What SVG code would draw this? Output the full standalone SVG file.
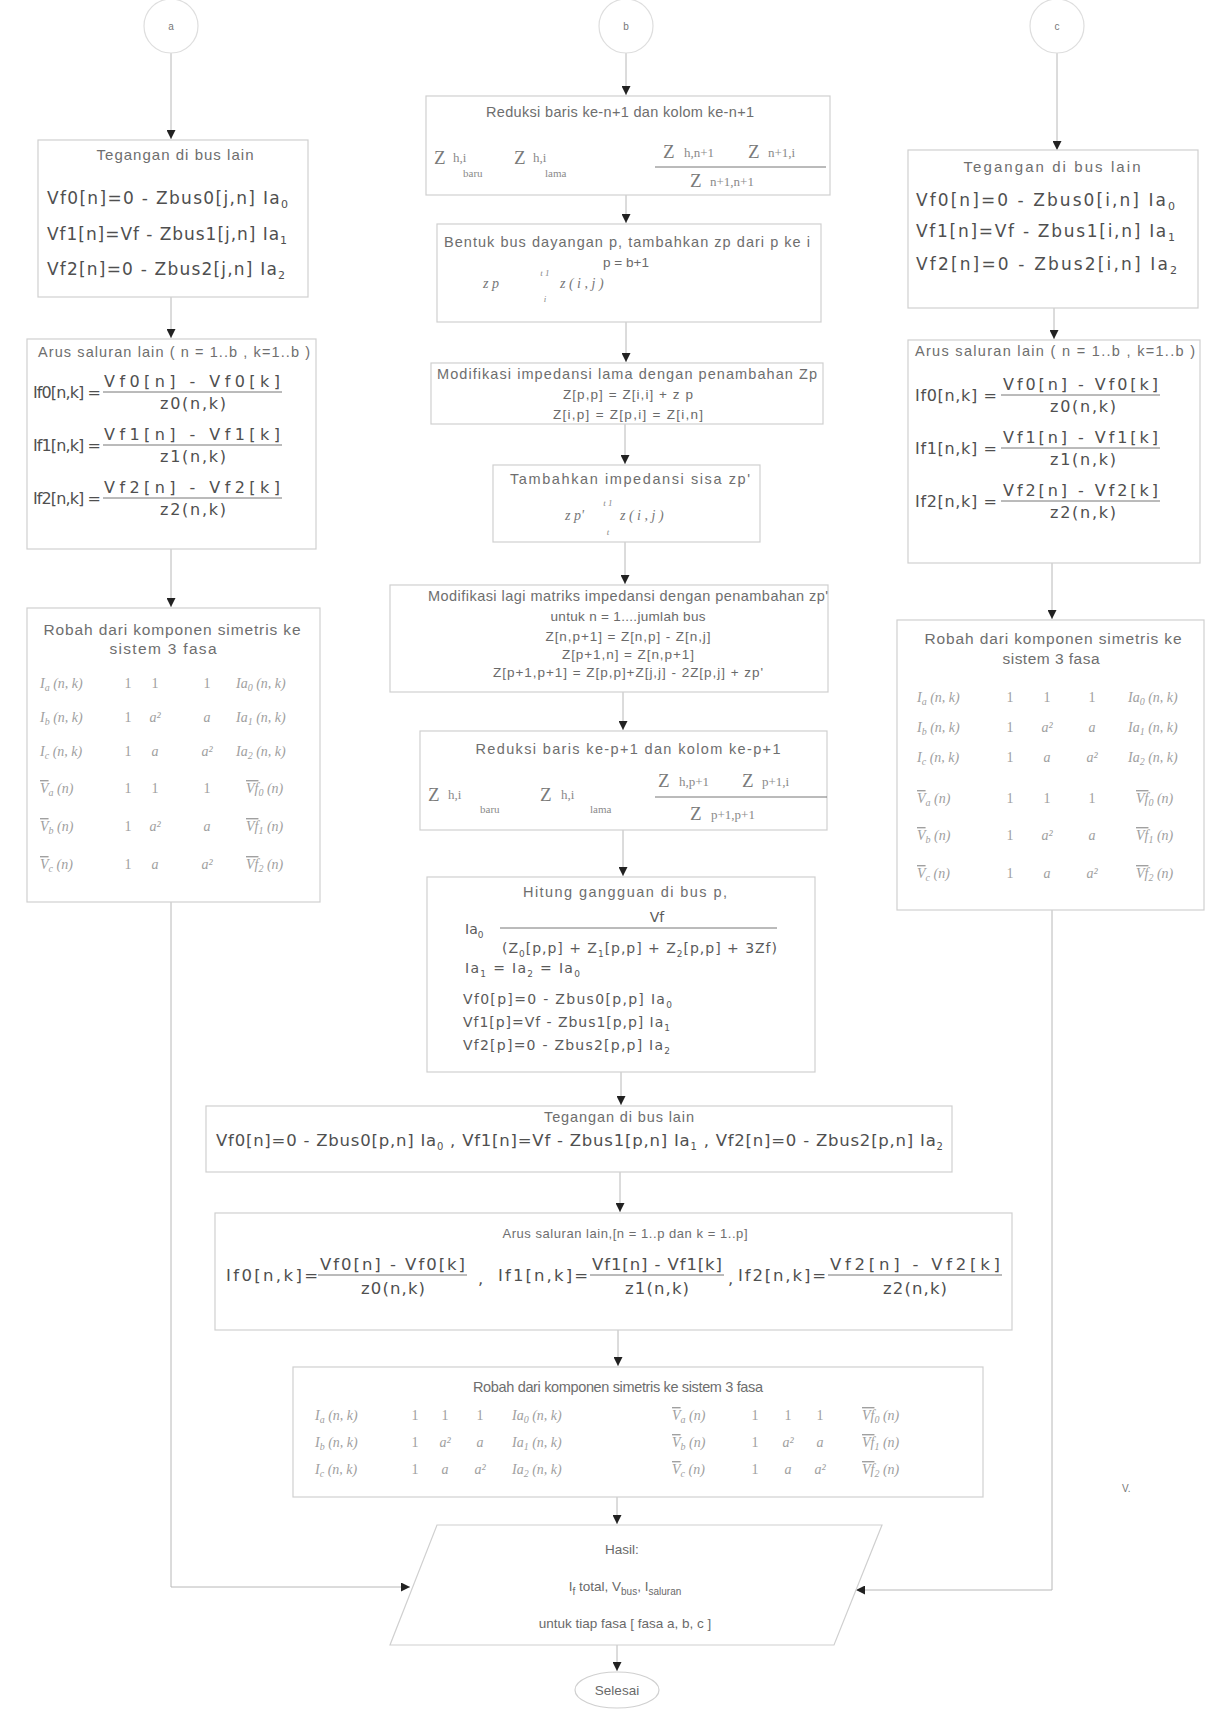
<svg xmlns="http://www.w3.org/2000/svg" width="1210" height="1712" viewBox="0 0 1210 1712">
<defs>
<style>
.box{fill:#fff;stroke:#d0d0d0;stroke-width:1.2}
.circ{fill:#fff;stroke:#dedede;stroke-width:1.2}
.t{font-family:"Liberation Sans",Arial,sans-serif;font-size:14.5px;fill:#6e6e6e}
.s{font-family:"Liberation Sans",Arial,sans-serif;font-size:13.5px;fill:#6a6a6a}
.lbl{font-family:"Liberation Sans",Arial,sans-serif;font-size:10px;fill:#777}
.eq{font-family:"DejaVu Sans",Verdana,sans-serif;font-size:17px;fill:#4f4f4f}
.eqs{font-family:"DejaVu Sans",Verdana,sans-serif;font-size:14px;fill:#5a5a5a}
.f{font-family:"DejaVu Sans",Verdana,sans-serif;font-size:16.5px;fill:#4f4f4f}
.fm{font-family:"DejaVu Sans",Verdana,sans-serif;font-size:16px;fill:#4f4f4f}
.m{font-family:"Liberation Serif","Times New Roman",serif;font-style:italic;font-size:14px;fill:#a0a0a0}
.mr{font-family:"Liberation Serif","Times New Roman",serif;font-size:14px;fill:#a0a0a0;text-anchor:middle}
.z{font-family:"Liberation Serif","Times New Roman",serif;font-size:19px;fill:#7a7a7a}
.zs{font-family:"Liberation Serif","Times New Roman",serif;font-size:13px;fill:#8a8a8a}
.c{stroke:#b8b8b8;stroke-width:1;fill:none}
.bar{stroke:#777;stroke-width:1}
.mid{text-anchor:middle}
.ov{text-decoration:overline}
</style>
<marker id="ah" viewBox="0 0 10 10" refX="10" refY="5" markerWidth="9" markerHeight="9" markerUnits="userSpaceOnUse" orient="auto"><path d="M0,0 L10,5 L0,10 z" fill="#222"/></marker>
</defs>
<rect width="1210" height="1712" fill="#fff"/>

<g id="connectors">
<path class="c" d="M171,53 V139" marker-end="url(#ah)"/>
<path class="c" d="M171,297 V338" marker-end="url(#ah)"/>
<path class="c" d="M171,549 V607" marker-end="url(#ah)"/>
<path class="c" d="M171,902 V1587 H410" marker-end="url(#ah)"/>
<path class="c" d="M626,53 V95" marker-end="url(#ah)"/>
<path class="c" d="M626,195 V223" marker-end="url(#ah)"/>
<path class="c" d="M626,322 V362" marker-end="url(#ah)"/>
<path class="c" d="M625,424 V464" marker-end="url(#ah)"/>
<path class="c" d="M625,542 V584" marker-end="url(#ah)"/>
<path class="c" d="M623,692 V730" marker-end="url(#ah)"/>
<path class="c" d="M623,830 V876" marker-end="url(#ah)"/>
<path class="c" d="M621,1072 V1105" marker-end="url(#ah)"/>
<path class="c" d="M620,1172 V1212" marker-end="url(#ah)"/>
<path class="c" d="M618,1330 V1366" marker-end="url(#ah)"/>
<path class="c" d="M617,1497 V1524" marker-end="url(#ah)"/>
<path class="c" d="M617,1645 V1671" marker-end="url(#ah)"/>
<path class="c" d="M1057,53 V150" marker-end="url(#ah)"/>
<path class="c" d="M1054,308 V339" marker-end="url(#ah)"/>
<path class="c" d="M1052,563 V619" marker-end="url(#ah)"/>
<path class="c" d="M1052,910 V1590 H856" marker-end="url(#ah)"/>
</g>

<g id="start-a"><circle class="circ" cx="171" cy="26" r="27"/><text class="lbl mid" x="171" y="30">a</text></g>
<g id="start-b"><circle class="circ" cx="626" cy="26" r="27"/><text class="lbl mid" x="626" y="30">b</text></g>
<g id="start-c"><circle class="circ" cx="1057" cy="26" r="27"/><text class="lbl mid" x="1057" y="30">c</text></g>

<g id="a-tegangan">
<rect class="box" x="38" y="140" width="270" height="157"/>
<text class="t mid" x="175" y="160" textLength="157" style="font-size:15px">Tegangan di bus lain</text>
<text class="eq" x="47" y="204" textLength="241">Vf0[n]=0 - Zbus0[j,n] Ia<tspan dy="4" style="font-size:11px">0</tspan></text>
<text class="eq" x="47" y="240" textLength="240">Vf1[n]=Vf - Zbus1[j,n] Ia<tspan dy="4" style="font-size:11px">1</tspan></text>
<text class="eq" x="47" y="275" textLength="238">Vf2[n]=0 - Zbus2[j,n] Ia<tspan dy="4" style="font-size:11px">2</tspan></text>
</g>

<g id="a-arus">
<rect class="box" x="27" y="339" width="289" height="210"/>
<text class="t mid" x="174" y="357" textLength="272">Arus saluran lain ( n = 1..b , k=1..b )</text>
<text class="fm" x="33" y="398" textLength="68">If0[n,k] =</text>
<text class="fm" x="104" y="387" textLength="176">Vf0[n] - Vf0[k]</text>
<line class="bar" x1="103" y1="392" x2="282" y2="392"/>
<text class="fm mid" x="193" y="409" textLength="66">z0(n,k)</text>
<text class="fm" x="33" y="451" textLength="68">If1[n,k] =</text>
<text class="fm" x="104" y="440" textLength="176">Vf1[n] - Vf1[k]</text>
<line class="bar" x1="103" y1="445" x2="282" y2="445"/>
<text class="fm mid" x="193" y="462" textLength="66">z1(n,k)</text>
<text class="fm" x="33" y="504" textLength="68">If2[n,k] =</text>
<text class="fm" x="104" y="493" textLength="176">Vf2[n] - Vf2[k]</text>
<line class="bar" x1="103" y1="498" x2="282" y2="498"/>
<text class="fm mid" x="193" y="515" textLength="66">z2(n,k)</text>
</g>

<g id="a-robah">
<rect class="box" x="27" y="608" width="293" height="294"/>
<text class="t mid" x="172" y="635" textLength="257" style="font-size:15.5px">Robah dari komponen simetris ke</text>
<text class="t mid" x="163" y="654" textLength="107" style="font-size:15.5px">sistem 3 fasa</text>
<text class="m" x="40" y="688">I<tspan dy="3" style="font-size:10px">a</tspan><tspan dy="-3"> (n, k)</tspan></text>
<text class="mr" x="128" y="688">1</text><text class="mr" x="155" y="688">1</text><text class="mr" x="207" y="688">1</text>
<text class="m" x="236" y="688">Ia<tspan dy="3" style="font-size:10px">0</tspan><tspan dy="-3"> (n, k)</tspan></text>
<text class="m" x="40" y="722">I<tspan dy="3" style="font-size:10px">b</tspan><tspan dy="-3"> (n, k)</tspan></text>
<text class="mr" x="128" y="722">1</text><text class="m mid" x="155" y="722">a²</text><text class="m mid" x="207" y="722">a</text>
<text class="m" x="236" y="722">Ia<tspan dy="3" style="font-size:10px">1</tspan><tspan dy="-3"> (n, k)</tspan></text>
<text class="m" x="40" y="756">I<tspan dy="3" style="font-size:10px">c</tspan><tspan dy="-3"> (n, k)</tspan></text>
<text class="mr" x="128" y="756">1</text><text class="m mid" x="155" y="756">a</text><text class="m mid" x="207" y="756">a²</text>
<text class="m" x="236" y="756">Ia<tspan dy="3" style="font-size:10px">2</tspan><tspan dy="-3"> (n, k)</tspan></text>
<text class="m" x="40" y="793"><tspan class="ov">V</tspan><tspan dy="3" style="font-size:10px">a</tspan><tspan dy="-3"> (n)</tspan></text>
<text class="mr" x="128" y="793">1</text><text class="mr" x="155" y="793">1</text><text class="mr" x="207" y="793">1</text>
<text class="m" x="246" y="793"><tspan class="ov">Vf</tspan><tspan dy="3" style="font-size:10px">0</tspan><tspan dy="-3"> (n)</tspan></text>
<text class="m" x="40" y="831"><tspan class="ov">V</tspan><tspan dy="3" style="font-size:10px">b</tspan><tspan dy="-3"> (n)</tspan></text>
<text class="mr" x="128" y="831">1</text><text class="m mid" x="155" y="831">a²</text><text class="m mid" x="207" y="831">a</text>
<text class="m" x="246" y="831"><tspan class="ov">Vf</tspan><tspan dy="3" style="font-size:10px">1</tspan><tspan dy="-3"> (n)</tspan></text>
<text class="m" x="40" y="869"><tspan class="ov">V</tspan><tspan dy="3" style="font-size:10px">c</tspan><tspan dy="-3"> (n)</tspan></text>
<text class="mr" x="128" y="869">1</text><text class="m mid" x="155" y="869">a</text><text class="m mid" x="207" y="869">a²</text>
<text class="m" x="246" y="869"><tspan class="ov">Vf</tspan><tspan dy="3" style="font-size:10px">2</tspan><tspan dy="-3"> (n)</tspan></text>
</g>

<g id="c-tegangan">
<rect class="box" x="908" y="150" width="290" height="158"/>
<text class="t mid" x="1052" y="172" textLength="177" style="font-size:15px">Tegangan di bus lain</text>
<text class="eq" x="916" y="206" textLength="259">Vf0[n]=0 - Zbus0[i,n] Ia<tspan dy="4" style="font-size:11px">0</tspan></text>
<text class="eq" x="916" y="237" textLength="259">Vf1[n]=Vf - Zbus1[i,n] Ia<tspan dy="4" style="font-size:11px">1</tspan></text>
<text class="eq" x="916" y="270" textLength="261">Vf2[n]=0 - Zbus2[i,n] Ia<tspan dy="4" style="font-size:11px">2</tspan></text>
</g>

<g id="c-arus">
<rect class="box" x="908" y="340" width="292" height="223"/>
<text class="t mid" x="1055" y="356" textLength="280">Arus saluran lain ( n = 1..b , k=1..b )</text>
<text class="fm" x="915" y="401" textLength="82">If0[n,k] =</text>
<text class="fm" x="1003" y="390" textLength="155">Vf0[n] - Vf0[k]</text>
<line class="bar" x1="1001" y1="395" x2="1160" y2="395"/>
<text class="fm mid" x="1083" y="412" textLength="66">z0(n,k)</text>
<text class="fm" x="915" y="454" textLength="82">If1[n,k] =</text>
<text class="fm" x="1003" y="443" textLength="155">Vf1[n] - Vf1[k]</text>
<line class="bar" x1="1001" y1="448" x2="1160" y2="448"/>
<text class="fm mid" x="1083" y="465" textLength="66">z1(n,k)</text>
<text class="fm" x="915" y="507" textLength="82">If2[n,k] =</text>
<text class="fm" x="1003" y="496" textLength="155">Vf2[n] - Vf2[k]</text>
<line class="bar" x1="1001" y1="501" x2="1160" y2="501"/>
<text class="fm mid" x="1083" y="518" textLength="66">z2(n,k)</text>
</g>

<g id="c-robah">
<rect class="box" x="897" y="620" width="307" height="290"/>
<text class="t mid" x="1053" y="644" textLength="257" style="font-size:15.5px">Robah dari komponen simetris ke</text>
<text class="t mid" x="1051" y="664" textLength="97" style="font-size:15.5px">sistem 3 fasa</text>
<text class="m" x="917" y="702">I<tspan dy="3" style="font-size:10px">a</tspan><tspan dy="-3"> (n, k)</tspan></text>
<text class="mr" x="1010" y="702">1</text><text class="mr" x="1047" y="702">1</text><text class="mr" x="1092" y="702">1</text>
<text class="m" x="1128" y="702">Ia<tspan dy="3" style="font-size:10px">0</tspan><tspan dy="-3"> (n, k)</tspan></text>
<text class="m" x="917" y="732">I<tspan dy="3" style="font-size:10px">b</tspan><tspan dy="-3"> (n, k)</tspan></text>
<text class="mr" x="1010" y="732">1</text><text class="m mid" x="1047" y="732">a²</text><text class="m mid" x="1092" y="732">a</text>
<text class="m" x="1128" y="732">Ia<tspan dy="3" style="font-size:10px">1</tspan><tspan dy="-3"> (n, k)</tspan></text>
<text class="m" x="917" y="762">I<tspan dy="3" style="font-size:10px">c</tspan><tspan dy="-3"> (n, k)</tspan></text>
<text class="mr" x="1010" y="762">1</text><text class="m mid" x="1047" y="762">a</text><text class="m mid" x="1092" y="762">a²</text>
<text class="m" x="1128" y="762">Ia<tspan dy="3" style="font-size:10px">2</tspan><tspan dy="-3"> (n, k)</tspan></text>
<text class="m" x="917" y="803"><tspan class="ov">V</tspan><tspan dy="3" style="font-size:10px">a</tspan><tspan dy="-3"> (n)</tspan></text>
<text class="mr" x="1010" y="803">1</text><text class="mr" x="1047" y="803">1</text><text class="mr" x="1092" y="803">1</text>
<text class="m" x="1136" y="803"><tspan class="ov">Vf</tspan><tspan dy="3" style="font-size:10px">0</tspan><tspan dy="-3"> (n)</tspan></text>
<text class="m" x="917" y="840"><tspan class="ov">V</tspan><tspan dy="3" style="font-size:10px">b</tspan><tspan dy="-3"> (n)</tspan></text>
<text class="mr" x="1010" y="840">1</text><text class="m mid" x="1047" y="840">a²</text><text class="m mid" x="1092" y="840">a</text>
<text class="m" x="1136" y="840"><tspan class="ov">Vf</tspan><tspan dy="3" style="font-size:10px">1</tspan><tspan dy="-3"> (n)</tspan></text>
<text class="m" x="917" y="878"><tspan class="ov">V</tspan><tspan dy="3" style="font-size:10px">c</tspan><tspan dy="-3"> (n)</tspan></text>
<text class="mr" x="1010" y="878">1</text><text class="m mid" x="1047" y="878">a</text><text class="m mid" x="1092" y="878">a²</text>
<text class="m" x="1136" y="878"><tspan class="ov">Vf</tspan><tspan dy="3" style="font-size:10px">2</tspan><tspan dy="-3"> (n)</tspan></text>
</g>

<g id="b-reduksi-n">
<rect class="box" x="426" y="96" width="404" height="99"/>
<text class="t mid" x="620" y="117" textLength="268">Reduksi baris ke-n+1 dan kolom ke-n+1</text>
<text class="z" x="434" y="164">Z</text><text class="zs" x="453" y="162">h,i</text><text class="zs" x="463" y="177" style="font-size:11px">baru</text>
<text class="z" x="514" y="164">Z</text><text class="zs" x="533" y="162">h,i</text><text class="zs" x="545" y="177" style="font-size:11px">lama</text>
<text class="z" x="663" y="158">Z</text><text class="zs" x="684" y="157">h,n+1</text><text class="z" x="748" y="158">Z</text><text class="zs" x="768" y="157">n+1,i</text>
<line class="bar" x1="655" y1="167" x2="826" y2="167"/>
<text class="z" x="690" y="187">Z</text><text class="zs" x="710" y="186">n+1,n+1</text>
</g>

<g id="b-bentuk">
<rect class="box" x="437" y="224" width="384" height="98"/>
<text class="t mid" x="627" y="247" textLength="366">Bentuk bus dayangan p, tambahkan zp dari p ke i</text>
<text class="s mid" x="626" y="267">p = b+1</text>
<text class="m" x="483" y="288" style="fill:#777">z p</text>
<text class="m mid" x="545" y="276" style="font-size:9px;fill:#888">t 1</text>
<text class="m mid" x="545" y="302" style="font-size:9px;fill:#888">i</text>
<text class="m" x="560" y="288" style="fill:#777">z ( i , j )</text>
</g>

<g id="b-modifikasi">
<rect class="box" x="431" y="363" width="392" height="61"/>
<text class="t mid" x="627" y="379" textLength="380">Modifikasi impedansi lama dengan penambahan Zp</text>
<text class="s mid" x="628" y="399" textLength="130">Z[p,p] = Z[i,i] + z p</text>
<text class="s mid" x="628" y="419" textLength="150">Z[i,p] = Z[p,i] = Z[i,n]</text>
</g>

<g id="b-tambahkan">
<rect class="box" x="493" y="465" width="267" height="77"/>
<text class="t mid" x="630" y="484" textLength="240">Tambahkan impedansi sisa zp'</text>
<text class="m" x="565" y="520" style="fill:#777">z p'</text>
<text class="m mid" x="608" y="506" style="font-size:9px;fill:#888">t 1</text>
<text class="m mid" x="608" y="535" style="font-size:9px;fill:#888">t</text>
<text class="m" x="620" y="520" style="fill:#777">z ( i , j )</text>
</g>

<g id="b-modifikasi-lagi">
<rect class="box" x="390" y="585" width="438" height="107"/>
<text class="t mid" x="628" y="601" textLength="400">Modifikasi lagi matriks impedansi dengan penambahan zp'</text>
<text class="s mid" x="628" y="621" textLength="155">untuk n = 1....jumlah bus</text>
<text class="s mid" x="628" y="641" textLength="165">Z[n,p+1] = Z[n,p] - Z[n,j]</text>
<text class="s mid" x="628" y="659" textLength="132">Z[p+1,n] = Z[n,p+1]</text>
<text class="s mid" x="628" y="677" textLength="270">Z[p+1,p+1] = Z[p,p]+Z[j,j] - 2Z[p,j] + zp'</text>
</g>

<g id="b-reduksi-p">
<rect class="box" x="420" y="731" width="407" height="99"/>
<text class="t mid" x="628" y="754" textLength="305">Reduksi baris ke-p+1 dan kolom ke-p+1</text>
<text class="z" x="428" y="801">Z</text><text class="zs" x="448" y="799">h,i</text><text class="zs" x="480" y="813" style="font-size:11px">baru</text>
<text class="z" x="540" y="801">Z</text><text class="zs" x="561" y="799">h,i</text><text class="zs" x="590" y="813" style="font-size:11px">lama</text>
<text class="z" x="658" y="787">Z</text><text class="zs" x="679" y="786">h,p+1</text><text class="z" x="742" y="787">Z</text><text class="zs" x="762" y="786">p+1,i</text>
<line class="bar" x1="655" y1="797" x2="827" y2="797"/>
<text class="z" x="690" y="820">Z</text><text class="zs" x="711" y="819">p+1,p+1</text>
</g>

<g id="b-hitung">
<rect class="box" x="427" y="877" width="388" height="195"/>
<text class="t mid" x="625" y="897" textLength="204">Hitung gangguan di bus p,</text>
<text class="eqs mid" x="657" y="922">Vf</text>
<text class="eqs" x="465" y="934">Ia<tspan dy="4" style="font-size:9px">0</tspan></text>
<line class="bar" x1="500" y1="928" x2="777" y2="928"/>
<text class="eqs" x="502" y="953" textLength="275">(Z<tspan dy="4" style="font-size:9px">0</tspan><tspan dy="-4">[p,p] + Z</tspan><tspan dy="4" style="font-size:9px">1</tspan><tspan dy="-4">[p,p] + Z</tspan><tspan dy="4" style="font-size:9px">2</tspan><tspan dy="-4">[p,p] + 3Zf)</tspan></text>
<text class="eqs" x="465" y="973" textLength="115">Ia<tspan dy="4" style="font-size:9px">1</tspan><tspan dy="-4"> = Ia</tspan><tspan dy="4" style="font-size:9px">2</tspan><tspan dy="-4"> = Ia</tspan><tspan dy="4" style="font-size:9px">0</tspan></text>
<text class="eqs" x="463" y="1004" textLength="209">Vf0[p]=0 - Zbus0[p,p] Ia<tspan dy="4" style="font-size:9px">0</tspan></text>
<text class="eqs" x="463" y="1027" textLength="207">Vf1[p]=Vf - Zbus1[p,p] Ia<tspan dy="4" style="font-size:9px">1</tspan></text>
<text class="eqs" x="463" y="1050" textLength="207">Vf2[p]=0 - Zbus2[p,p] Ia<tspan dy="4" style="font-size:9px">2</tspan></text>
</g>

<g id="m-tegangan">
<rect class="box" x="206" y="1106" width="746" height="66"/>
<text class="t mid" x="619" y="1122" textLength="150">Tegangan di bus lain</text>
<text class="f" x="216" y="1146" textLength="727">Vf0[n]=0 - Zbus0[p,n] Ia<tspan dy="4" style="font-size:10px">0</tspan><tspan dy="-4"> ,  Vf1[n]=Vf - Zbus1[p,n] Ia</tspan><tspan dy="4" style="font-size:10px">1</tspan><tspan dy="-4"> , Vf2[n]=0 - Zbus2[p,n] Ia</tspan><tspan dy="4" style="font-size:10px">2</tspan></text>
</g>

<g id="m-arus">
<rect class="box" x="215" y="1213" width="797" height="117"/>
<text class="t mid" x="625" y="1238" textLength="245" style="font-size:13px">Arus saluran lain,[n = 1..p dan k = 1..p]</text>
<text class="f" x="226" y="1281" textLength="92">If0[n,k]=</text>
<text class="f" x="320" y="1270" textLength="145">Vf0[n] - Vf0[k]</text>
<line class="bar" x1="318" y1="1275" x2="467" y2="1275"/>
<text class="f mid" x="393" y="1294" textLength="64">z0(n,k)</text>
<text class="f" x="478" y="1284">,</text>
<text class="f" x="498" y="1281" textLength="90">If1[n,k]=</text>
<text class="f" x="592" y="1270" textLength="130">Vf1[n] - Vf1[k]</text>
<line class="bar" x1="590" y1="1275" x2="724" y2="1275"/>
<text class="f mid" x="657" y="1294" textLength="64">z1(n,k)</text>
<text class="f" x="728" y="1284">,</text>
<text class="f" x="738" y="1281" textLength="88">If2[n,k]=</text>
<text class="f" x="830" y="1270" textLength="170">Vf2[n] - Vf2[k]</text>
<line class="bar" x1="828" y1="1275" x2="1002" y2="1275"/>
<text class="f mid" x="915" y="1294" textLength="64">z2(n,k)</text>
</g>

<g id="m-robah">
<rect class="box" x="293" y="1367" width="690" height="130"/>
<text class="t mid" x="618" y="1392" textLength="290">Robah dari komponen simetris ke sistem 3 fasa</text>
<text class="m" x="315" y="1420">I<tspan dy="3" style="font-size:10px">a</tspan><tspan dy="-3"> (n, k)</tspan></text>
<text class="mr" x="415" y="1420">1</text><text class="mr" x="445" y="1420">1</text><text class="mr" x="480" y="1420">1</text>
<text class="m" x="512" y="1420">Ia<tspan dy="3" style="font-size:10px">0</tspan><tspan dy="-3"> (n, k)</tspan></text>
<text class="m" x="672" y="1420"><tspan class="ov">V</tspan><tspan dy="3" style="font-size:10px">a</tspan><tspan dy="-3"> (n)</tspan></text>
<text class="mr" x="755" y="1420">1</text><text class="mr" x="788" y="1420">1</text><text class="mr" x="820" y="1420">1</text>
<text class="m" x="862" y="1420"><tspan class="ov">Vf</tspan><tspan dy="3" style="font-size:10px">0</tspan><tspan dy="-3"> (n)</tspan></text>
<text class="m" x="315" y="1447">I<tspan dy="3" style="font-size:10px">b</tspan><tspan dy="-3"> (n, k)</tspan></text>
<text class="mr" x="415" y="1447">1</text><text class="m mid" x="445" y="1447">a²</text><text class="m mid" x="480" y="1447">a</text>
<text class="m" x="512" y="1447">Ia<tspan dy="3" style="font-size:10px">1</tspan><tspan dy="-3"> (n, k)</tspan></text>
<text class="m" x="672" y="1447"><tspan class="ov">V</tspan><tspan dy="3" style="font-size:10px">b</tspan><tspan dy="-3"> (n)</tspan></text>
<text class="mr" x="755" y="1447">1</text><text class="m mid" x="788" y="1447">a²</text><text class="m mid" x="820" y="1447">a</text>
<text class="m" x="862" y="1447"><tspan class="ov">Vf</tspan><tspan dy="3" style="font-size:10px">1</tspan><tspan dy="-3"> (n)</tspan></text>
<text class="m" x="315" y="1474">I<tspan dy="3" style="font-size:10px">c</tspan><tspan dy="-3"> (n, k)</tspan></text>
<text class="mr" x="415" y="1474">1</text><text class="m mid" x="445" y="1474">a</text><text class="m mid" x="480" y="1474">a²</text>
<text class="m" x="512" y="1474">Ia<tspan dy="3" style="font-size:10px">2</tspan><tspan dy="-3"> (n, k)</tspan></text>
<text class="m" x="672" y="1474"><tspan class="ov">V</tspan><tspan dy="3" style="font-size:10px">c</tspan><tspan dy="-3"> (n)</tspan></text>
<text class="mr" x="755" y="1474">1</text><text class="m mid" x="788" y="1474">a</text><text class="m mid" x="820" y="1474">a²</text>
<text class="m" x="862" y="1474"><tspan class="ov">Vf</tspan><tspan dy="3" style="font-size:10px">2</tspan><tspan dy="-3"> (n)</tspan></text>
</g>

<text class="lbl" x="1122" y="1492">V.</text>

<g id="hasil">
<path class="box" d="M437,1525 H882 L834,1645 H390 Z"/>
<text class="s mid" x="622" y="1554">Hasil:</text>
<text class="s mid" x="625" y="1591">I<tspan dy="4" style="font-size:10px">f</tspan><tspan dy="-4"> total, V</tspan><tspan dy="4" style="font-size:10px">bus</tspan><tspan dy="-4">, I</tspan><tspan dy="4" style="font-size:10px">saluran</tspan></text>
<text class="s mid" x="625" y="1628">untuk tiap fasa [ fasa a, b, c ]</text>
</g>

<g id="selesai">
<ellipse class="box" cx="617" cy="1690" rx="42" ry="18"/>
<text class="s mid" x="617" y="1695">Selesai</text>
</g>
</svg>
